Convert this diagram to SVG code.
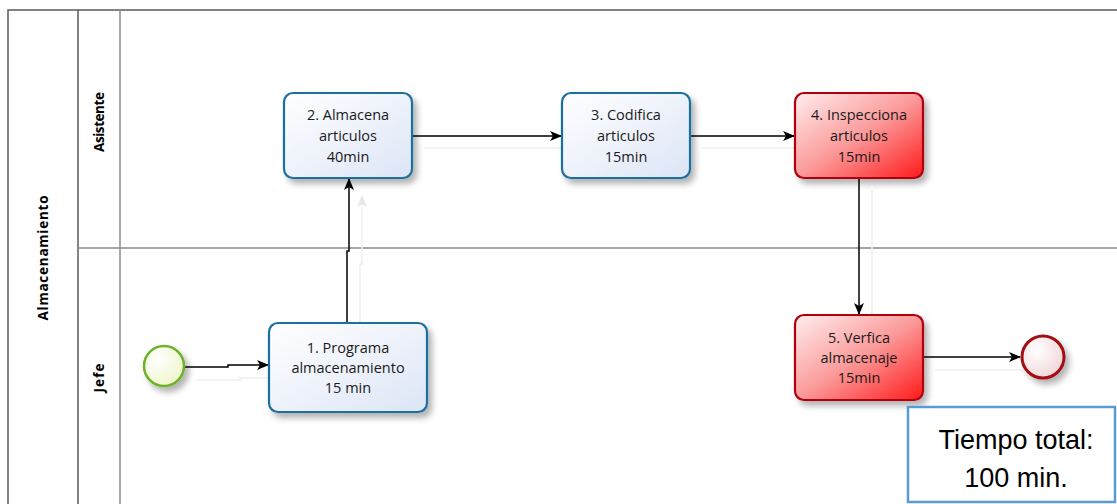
<svg xmlns="http://www.w3.org/2000/svg" width="1117" height="504" viewBox="0 0 1117 504">
  <defs>
    <style>
      .pool { fill: none; stroke: #5a5a5a; stroke-width: 1.5; }
      .lane { fill: none; stroke: #8a8a8a; stroke-width: 1.5; }
      .hdr { font-family: "Open Sans", "Liberation Sans", sans-serif; font-weight: bold; font-size: 13.5px; fill: #000; text-anchor: middle; }
      .task { stroke-width: 2.2; filter: url(#shadow); }
      .blue { fill: url(#gBlue); stroke: #1f6f9f; }
      .red { fill: url(#gRed); stroke: #b00010; }
      .lbl { font-family: "Open Sans", "Liberation Sans", sans-serif; font-size: 14.5px; fill: #1a1a1a; text-anchor: middle; }
      .flow { fill: none; stroke: #000; stroke-width: 1.5; marker-end: url(#arrow); }
      .ghost { fill: none; stroke: #efefef; stroke-width: 1.5; }
      .note { font-family: "Liberation Sans", "Open Sans", sans-serif; font-size: 27px; fill: #000; text-anchor: middle; }
    </style>
    <linearGradient id="gBlue" x1="0" y1="0" x2="1" y2="1">
      <stop offset="0" stop-color="#ffffff"/>
      <stop offset="1" stop-color="#dce5f6"/>
    </linearGradient>
    <linearGradient id="gRed" x1="0" y1="0" x2="1" y2="1">
      <stop offset="0" stop-color="#ffeeee"/>
      <stop offset="0.5" stop-color="#fb9a9a"/>
      <stop offset="1" stop-color="#ff1a1a"/>
    </linearGradient>
    <radialGradient id="gStart" cx="0.35" cy="0.35" r="0.75">
      <stop offset="0" stop-color="#ffffff"/>
      <stop offset="1" stop-color="#eef6c8"/>
    </radialGradient>
    <radialGradient id="gEnd" cx="0.35" cy="0.35" r="0.75">
      <stop offset="0" stop-color="#ffffff"/>
      <stop offset="1" stop-color="#f0d4d6"/>
    </radialGradient>
    <filter id="shadow" x="-20%" y="-20%" width="150%" height="150%">
      <feGaussianBlur in="SourceAlpha" stdDeviation="3"/>
      <feOffset dx="4" dy="5" result="b"/>
      <feComponentTransfer><feFuncA type="linear" slope="0.3"/></feComponentTransfer>
      <feMerge><feMergeNode/><feMergeNode in="SourceGraphic"/></feMerge>
    </filter>
    <marker id="arrow" viewBox="0 0 12 10" refX="11" refY="5" markerWidth="12" markerHeight="10" markerUnits="userSpaceOnUse" orient="auto">
      <path d="M0,0 L12,5 L0,10 L3,5 Z" fill="#000"/>
    </marker>
    <marker id="arrowGhost" viewBox="0 0 12 10" refX="11" refY="5" markerWidth="12" markerHeight="10" markerUnits="userSpaceOnUse" orient="auto">
      <path d="M0,0 L12,5 L0,10 L3,5 Z" fill="#e8e8e8"/>
    </marker>
  </defs>

  <rect width="1117" height="504" fill="#fff"/>

  <!-- pool and lanes -->
  <g id="pool">
    <path class="pool" d="M8,520 V10 H1125"/>
    <line class="pool" x1="78" y1="10" x2="78" y2="520"/>
    <line class="lane" x1="120" y1="10" x2="120" y2="520"/>
    <line class="lane" x1="78" y1="248" x2="1125" y2="248"/>
    <text class="hdr" transform="translate(48,258) rotate(-90)" textLength="125" lengthAdjust="spacing">Almacenamiento</text>
    <text class="hdr" transform="translate(104,122) rotate(-90)" textLength="60" lengthAdjust="spacing">Asistente</text>
    <text class="hdr" transform="translate(104,378) rotate(-90)" textLength="29" lengthAdjust="spacing">Jefe</text>
  </g>

  <!-- connectors -->
  <g id="connectors">
    <g class="ghost">
      <path d="M196,380 H240 V378 H281"/>
      <path d="M360,336 V264 H362 V196" marker-end="url(#arrowGhost)"/>
      <path d="M424,148 H574"/>
      <path d="M702,148 H807"/>
      <path d="M872,190 V327"/>
      <path d="M935,370 H1033"/>
    </g>
    <path class="flow" d="M184,367 H228 V365 H268"/>
    <path class="flow" d="M347,323 V251 H349 V179"/>
    <path class="flow" d="M412,136 H561"/>
    <path class="flow" d="M690,136 H794"/>
    <path class="flow" d="M859,178 V314"/>
    <path class="flow" d="M923,357 H1020"/>
  </g>

  <g id="start">
    <circle cx="164" cy="366" r="20" fill="url(#gStart)" stroke="#6db22a" stroke-width="2.5" filter="url(#shadow)"/>
  </g>

  <g id="task1">
    <rect class="task blue" x="269" y="323" width="158" height="89" rx="9"/>
    <text class="lbl" x="348" y="353">1. Programa</text>
    <text class="lbl" x="348" y="373">almacenamiento</text>
    <text class="lbl" x="348" y="393">15 min</text>
  </g>

  <g id="task2">
    <rect class="task blue" x="284" y="93" width="128" height="85" rx="9"/>
    <text class="lbl" x="348" y="120">2. Almacena</text>
    <text class="lbl" x="348" y="141">articulos</text>
    <text class="lbl" x="348" y="162">40min</text>
  </g>

  <g id="task3">
    <rect class="task blue" x="562" y="93" width="128" height="85" rx="9"/>
    <text class="lbl" x="626" y="120">3. Codifica</text>
    <text class="lbl" x="626" y="141">articulos</text>
    <text class="lbl" x="626" y="162">15min</text>
  </g>

  <g id="task4">
    <rect class="task red" x="795" y="93" width="128" height="85" rx="9"/>
    <text class="lbl" x="859" y="120">4. Inspecciona</text>
    <text class="lbl" x="859" y="141">articulos</text>
    <text class="lbl" x="859" y="162">15min</text>
  </g>

  <g id="task5">
    <rect class="task red" x="795" y="315" width="128" height="85" rx="9"/>
    <text class="lbl" x="859" y="343">5. Verfica</text>
    <text class="lbl" x="859" y="363">almacenaje</text>
    <text class="lbl" x="859" y="383">15min</text>
  </g>

  <g id="end">
    <circle cx="1043" cy="357" r="21" fill="url(#gEnd)" stroke="#a30d12" stroke-width="3" filter="url(#shadow)"/>
  </g>

  <g id="total">
    <rect x="908" y="407" width="207" height="95" fill="#fff" stroke="#5b9bd5" stroke-width="2.5"/>
    <text class="note" x="1016" y="449">Tiempo total:</text>
    <text class="note" x="1016" y="487">100 min.</text>
  </g>
</svg>
